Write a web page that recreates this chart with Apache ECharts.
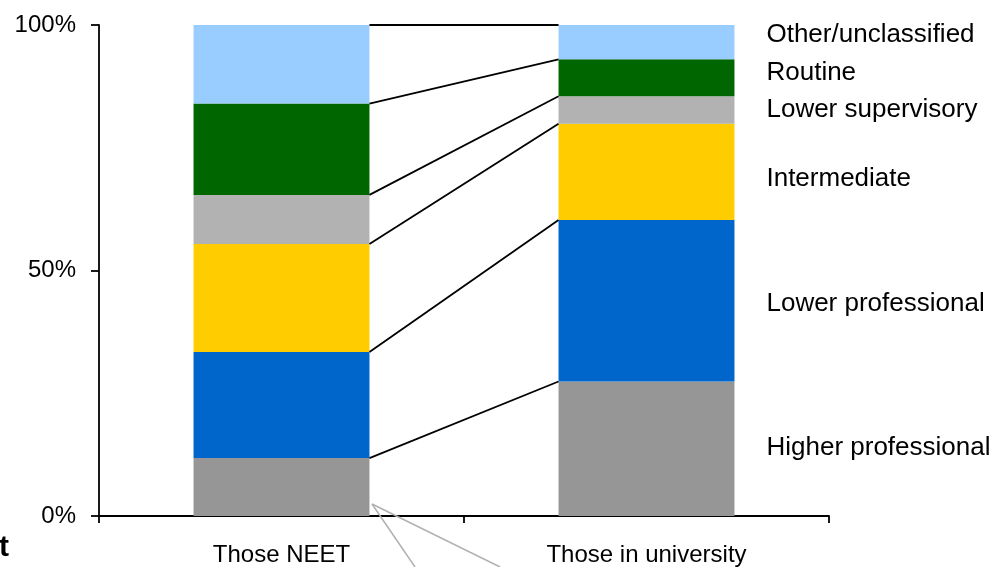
<!DOCTYPE html>
<html>
<head>
<meta charset="utf-8">
<script src="https://cdn.jsdelivr.net/npm/echarts@6/dist/echarts.min.js"></script>
<style>
html,body{margin:0;padding:0;background:#fff;}
#chart{width:995px;height:567px;}
</style>
</head>
<body>
<div id="chart"></div>
<script>
// ---- data ----
const categories = ['Those NEET', 'Those in university'];
const seriesNames = ['Higher professional', 'Lower professional', 'Intermediate', 'Lower supervisory', 'Routine', 'Other/unclassified'];
const higherProfessional = [11.8, 27.4];
const lowerProfessional = [21.6, 32.9];
const intermediate = [22.0, 19.6];
const lowerSupervisory = [10.0, 5.6];
const routine = [18.6, 7.5];
const otherUnclassified = [16.0, 7.0];
const yTickValues = [0, 50, 100];

// ---- styles ----
const seriesValues = [higherProfessional, lowerProfessional, intermediate, lowerSupervisory, routine, otherUnclassified];
const colors = ['#969696', '#0066CC', '#FFCC00', '#B2B2B2', '#006600', '#99CCFF'];
const labelOffsets = [-1, 3, 7, 0, -5, -7];
const FONT = '"Liberation Sans", Arial, sans-serif';
const BAR_FRAC = 0.482;

const chart = echarts.init(document.getElementById('chart'), null, {renderer: 'canvas'});

const barSeries = seriesNames.map((name, i) => ({
  name: name,
  type: 'bar',
  stack: 'total',
  barWidth: (BAR_FRAC * 100) + '%',
  itemStyle: {color: colors[i]},
  emphasis: {disabled: true},
  data: seriesValues[i].map((v, j) => j === 1 ? {
    value: v,
    label: {
      show: true,
      position: 'right',
      distance: 32,
      offset: [0, labelOffsets[i]],
      formatter: name,
      color: '#000',
      fontFamily: FONT,
      fontSize: 26
    }
  } : v)
}));

// cumulative boundaries for connector lines
const connectorData = [];
const cum = [0, 0];
seriesValues.forEach(arr => {
  cum[0] += arr[0];
  cum[1] += arr[1];
  connectorData.push([0, Math.min(cum[0], 100), Math.min(cum[1], 100)]);
});

const connectorSeries = {
  type: 'custom',
  silent: true,
  z: 5,
  encode: {x: 0, y: 1},
  data: connectorData,
  renderItem: function (params, api) {
    const p1 = api.coord([0, api.value(1)]);
    const p2 = api.coord([1, api.value(2)]);
    const catW = api.size([1, 0])[0];
    const half = catW * BAR_FRAC / 2;
    return {
      type: 'line',
      shape: {x1: p1[0] + half, y1: p1[1], x2: p2[0] - half, y2: p2[1]},
      style: {stroke: '#000', lineWidth: 1.8}
    };
  }
};

const option = {
  animation: false,
  backgroundColor: '#fff',
  grid: {left: 99, right: 166, top: 25, bottom: 50, containLabel: false},
  xAxis: {
    type: 'category',
    data: categories,
    axisLine: {lineStyle: {color: '#000', width: 1.8}},
    axisTick: {show: true, length: 7, lineStyle: {color: '#000', width: 1.8}},
    axisLabel: {color: '#000', fontFamily: FONT, fontSize: 24, margin: 27},
    splitLine: {show: false}
  },
  yAxis: {
    type: 'value',
    min: yTickValues[0],
    max: yTickValues[yTickValues.length - 1],
    interval: yTickValues[1] - yTickValues[0],
    axisLine: {show: true, lineStyle: {color: '#000', width: 1.8}},
    axisTick: {show: true, length: 8, lineStyle: {color: '#000', width: 1.8}},
    axisLabel: {color: '#000', fontFamily: FONT, fontSize: 24, margin: 23, formatter: '{value}%'},
    splitLine: {show: false}
  },
  series: barSeries.concat([connectorSeries]),
  graphic: [
    {type: 'line', silent: true, z: 10, shape: {x1: 372, y1: 504, x2: 415, y2: 567}, style: {stroke: '#B0B0B0', lineWidth: 1.5}},
    {type: 'line', silent: true, z: 10, shape: {x1: 372, y1: 504, x2: 500, y2: 567}, style: {stroke: '#B0B0B0', lineWidth: 1.5}},
    {type: 'text', silent: true, right: 986, top: 533, style: {text: 't', fill: '#000', font: 'bold 30px ' + FONT}}
  ]
};

chart.setOption(option);
</script>
</body>
</html>
